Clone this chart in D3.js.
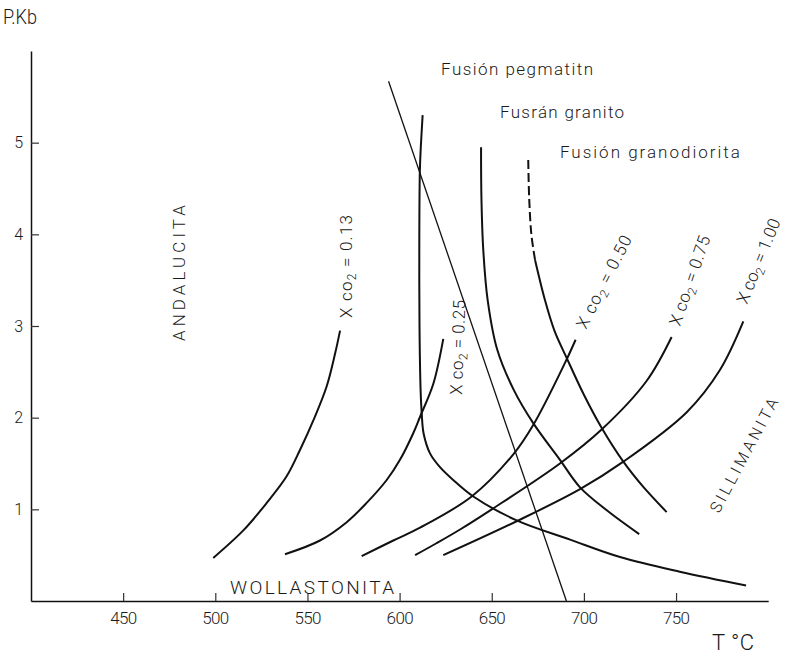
<!DOCTYPE html>
<html>
<head>
<meta charset="utf-8">
<script src="https://cdn.jsdelivr.net/npm/d3@7"></script>
<style>
  html, body { margin: 0; padding: 0; background: #fff; }
  svg text { font-family: Roboto, "DejaVu Sans", sans-serif; font-weight: 300; fill: #1a1a1a; }
</style>
</head>
<body>
<svg id="chart" width="785" height="655"></svg>
<script>
// Tick values
const tempTicks = [450, 500, 550, 600, 650, 700, 750];
const pressureTicks = [1, 2, 3, 4, 5];

// Decarbonation curves (T in °C, P in kbar), one per X_CO2
const co2_013 = [[498.9, 0.47], [515.2, 0.77], [527.9, 1.07], [538.7, 1.36], [546, 1.65], [553.2, 1.97], [560.4, 2.34], [565, 2.70], [567.7, 2.95]];
const co2_025 = [[537.8, 0.51], [556.8, 0.66], [571.3, 0.86], [582.1, 1.07], [593, 1.32], [600.2, 1.54], [607.4, 1.83], [611.1, 2.01], [618.3, 2.37], [623.7, 2.86]];
const co2_050 = [[579.4, 0.49], [596.6, 0.66], [611.1, 0.80], [639.1, 1.14], [661.7, 1.60], [672.5, 1.92], [689.8, 2.60], [695.5, 2.85]];
const co2_075 = [[608.4, 0.50], [620, 0.63], [632.8, 0.78], [650, 1.00], [687, 1.50], [709.6, 1.87], [734, 2.40], [747.6, 2.88]];
const co2_100 = [[623.7, 0.50], [663.5, 0.87], [697.9, 1.22], [721.4, 1.52], [755.8, 2.06], [773.8, 2.52], [786.5, 3.05]];
const co2Names = ["0.13", "0.25", "0.50", "0.75", "1.00"];

// Melting curves
const meltPegmatite = [[612.5, 5.30], [611.5, 4.95], [611, 4.70], [610.7, 4.0], [610.8, 3.0], [611.4, 2.3], [612, 2.05], [613, 1.83], [616.5, 1.61], [621.9, 1.46], [629.1, 1.32], [640, 1.14], [663.5, 0.88], [692.5, 0.67], [719.6, 0.48], [752, 0.32], [788, 0.17]];
const meltGranite = [[644.2, 4.95], [644.4, 4.40], [645.4, 3.83], [647.8, 3.28], [653, 2.74], [662, 2.30], [672.5, 1.94], [687, 1.54], [697.9, 1.24], [712.4, 0.99], [730, 0.73]];
const meltGranodioriteDashed = [[669.8, 4.81], [670.3, 4.40], [671.5, 4.0], [673.5, 3.72]];
const meltGranodiorite = [[673.5, 3.72], [678.9, 3.28], [684, 2.95], [690.7, 2.65], [700, 2.25], [709.6, 1.89], [721.4, 1.52], [732, 1.25], [744.9, 0.97]];

// Andalucita / sillimanita boundary (straight)
const alSilBoundary = [[594, 5.67], [690.5, 0]];

const svg = d3.select("#chart");

const x = d3.scaleLinear().domain([400, 800]).range([31, 768.2]);
const y = d3.scaleLinear().domain([0, 6]).range([601, 51]);

const smooth = d3.line()
    .x(d => x(d[0]))
    .y(d => y(d[1]))
    .curve(d3.curveCatmullRom.alpha(0.5));

const fontStack = "Roboto, DejaVu Sans, sans-serif";

// Axes, ticks pointing inwards
const xAxis = svg.append("g")
    .attr("transform", `translate(0,${y(0)})`)
    .call(d3.axisBottom(x).tickValues(tempTicks).tickSize(-8).tickSizeOuter(0).tickPadding(11));
xAxis.select(".domain").attr("stroke", "#111").attr("stroke-width", 1.5);
xAxis.selectAll(".tick line").attr("stroke", "#333").attr("stroke-width", 1.2);
xAxis.selectAll(".tick text")
    .style("font-family", fontStack)
    .style("font-weight", 300)
    .style("font-size", "17px")
    .attr("fill", "#222")
    .attr("textLength", 27)
    .attr("lengthAdjust", "spacing");

const yAxis = svg.append("g")
    .attr("transform", `translate(${x(400)},0)`)
    .call(d3.axisLeft(y).tickValues(pressureTicks).tickFormat(d3.format("d"))
        .tickSize(-8).tickSizeOuter(0).tickPadding(8));
yAxis.select(".domain").attr("stroke", "#111").attr("stroke-width", 1.5);
yAxis.selectAll(".tick line").attr("stroke", "#333").attr("stroke-width", 1.2);
yAxis.selectAll(".tick text")
    .style("font-family", fontStack)
    .style("font-weight", 300)
    .style("font-size", "16px")
    .attr("fill", "#222");

// Axis titles
svg.append("text").attr("x", 3).attr("y", 24)
    .style("font-size", "20px")
    .attr("textLength", 34).attr("lengthAdjust", "spacingAndGlyphs")
    .text("P.Kb");
svg.append("text").attr("x", 712).attr("y", 650)
    .style("font-size", "22px")
    .attr("textLength", 42).attr("lengthAdjust", "spacing")
    .text("T °C");

// Curves
const plot = svg.append("g").attr("fill", "none").attr("stroke", "#111");

plot.append("path").datum(alSilBoundary)
    .attr("d", d3.line().x(d => x(d[0])).y(d => y(d[1])))
    .attr("stroke-width", 1.3);

[co2_013, co2_025, co2_050, co2_075, co2_100].forEach(c => {
    plot.append("path").datum(c).attr("d", smooth).attr("stroke-width", 2);
});

[meltPegmatite, meltGranite, meltGranodiorite].forEach(c => {
    plot.append("path").datum(c).attr("d", smooth).attr("stroke-width", 2);
});
plot.append("path").datum(meltGranodioriteDashed).attr("d", smooth)
    .attr("stroke-width", 2).attr("stroke-dasharray", "9,4");

// Melting curve labels
const meltLabels = [
    { text: "Fusión pegmatitn", t: 622.5, p: 5.74, len: 152 },
    { text: "Fusrán granito", t: 654.5, p: 5.27, len: 124 },
    { text: "Fusión granodiorita", t: 687, p: 4.83, len: 180 }
];
svg.selectAll(".melt-label").data(meltLabels).enter().append("text")
    .attr("class", "melt-label")
    .attr("x", d => x(d.t)).attr("y", d => y(d.p))
    .style("font-size", "17px")
    .attr("textLength", d => d.len).attr("lengthAdjust", "spacing")
    .text(d => d.text);

// X_CO2 labels, rotated along the curves
const co2Labels = [
    { px: 352, py: 318, rot: -90, len: 103 },
    { px: 462, py: 395, rot: -88, len: 95 },
    { px: 586, py: 330, rot: -63, len: 102 },
    { px: 680, py: 327, rot: -71, len: 94 },
    { px: 747, py: 305, rot: -68, len: 90 }
];
co2Labels.forEach((d, i) => {
    const t = svg.append("text")
        .attr("transform", `translate(${d.px},${d.py}) rotate(${d.rot})`)
        .style("font-size", "17px")
        .attr("textLength", d.len).attr("lengthAdjust", "spacing");
    t.append("tspan").text("X");
    t.append("tspan").text(" co");
    t.append("tspan").style("font-size", "12px").attr("dy", 4).text("2");
    t.append("tspan").attr("dy", -4).text(" = " + co2Names[i]);
});

// Field labels
svg.append("text")
    .attr("transform", "translate(185,341) rotate(-90)")
    .style("font-size", "17px")
    .attr("textLength", 136).attr("lengthAdjust", "spacing")
    .text("ANDALUCITA");
svg.append("text")
    .attr("transform", "translate(719,514) rotate(-62)")
    .style("font-size", "16px")
    .attr("textLength", 127).attr("lengthAdjust", "spacing")
    .text("SILLIMANITA");
svg.append("text")
    .attr("x", 230).attr("y", 594)
    .style("font-size", "19px")
    .attr("textLength", 164).attr("lengthAdjust", "spacing")
    .text("WOLLASTONITA");
</script>
</body>
</html>
